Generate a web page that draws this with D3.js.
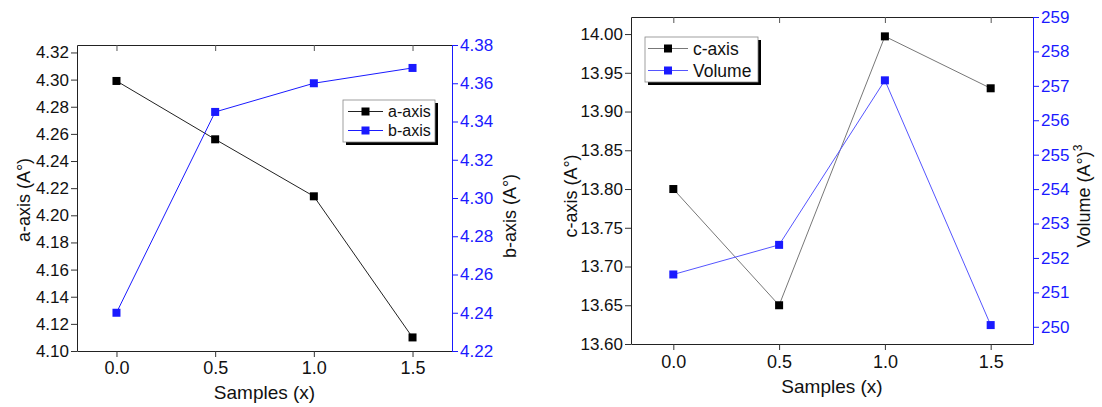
<!DOCTYPE html>
<meta charset="utf-8">
<style>
    body { margin: 0; background: #fff; }
    svg text { font-family: "Liberation Sans", Arial, sans-serif; }
</style>
<body>
<script src="https://cdn.jsdelivr.net/npm/d3@7"></script>
<script>

    var width = 1102,
            height = 407;

    // data
    var samples = [0.0, 0.5, 1.0, 1.5];
    var aAxis = [4.299, 4.256, 4.214, 4.110];
    var bAxis = [4.240, 4.345, 4.360, 4.368];
    var cAxis = [13.800, 13.650, 13.997, 13.930];
    var volume = [251.52, 252.38, 257.16, 250.05];

    var xTicks = [0.0, 0.5, 1.0, 1.5];
    var aTicks = [4.10, 4.12, 4.14, 4.16, 4.18, 4.20, 4.22, 4.24, 4.26, 4.28, 4.30, 4.32];
    var bTicks = [4.22, 4.24, 4.26, 4.28, 4.30, 4.32, 4.34, 4.36, 4.38];
    var cTicks = [13.60, 13.65, 13.70, 13.75, 13.80, 13.85, 13.90, 13.95, 14.00];
    var vTicks = [250, 251, 252, 253, 254, 255, 256, 257, 258, 259];

    var blue = "#1a1aff";

    var svg = d3.select("body").append("svg")
            .attr("width", width)
            .attr("height", height);

    var panels = [
        {
            left: 77, right: 452, top: 45, bottom: 351,
            yl: { domain: [4.10, 4.3255], ticks: aTicks, fmt: ".2f", title: "a-axis (A°)", tx: 30, ty: 200 },
            yr: { domain: [4.22, 4.38], ticks: bTicks, fmt: ".2f", title: "b-axis (A°)", tx: 516, ty: 216 },
            series: [
                { name: "a-axis", values: aAxis, side: "l", line: "#222", mark: "#000" },
                { name: "b-axis", values: bAxis, side: "r", line: blue, mark: blue }
            ],
            legend: { x: 343, y: 100, w: 92, h: 42, row: 19, font: 16, lx0: 5, lx1: 40, tx: 45 },
            xlabelY: 399, tickY: 374
        },
        {
            left: 631, right: 1033, top: 17, bottom: 344,
            yl: { domain: [13.60, 14.022], ticks: cTicks, fmt: ".2f", title: "c-axis (A°)", tx: 577, ty: 196 },
            yr: { domain: [249.5, 259], ticks: vTicks, fmt: "d", title: "Volume (A°)", sup: "3", tx: 1090, ty: 196 },
            series: [
                { name: "c-axis", values: cAxis, side: "l", line: "#777", mark: "#000" },
                { name: "Volume", values: volume, side: "r", line: "#5555ff", mark: blue }
            ],
            legend: { x: 645, y: 37, w: 113, h: 45, row: 22, font: 17.5, lx0: 3, lx1: 43, tx: 48 },
            xlabelY: 393, tickY: 368
        }
    ];

    panels.forEach(drawPanel);

    function drawPanel(p) {
        var g = svg.append("g");
        var x = d3.scaleLinear().domain([-0.2, 1.7]).range([p.left, p.right]);
        var yl = d3.scaleLinear().domain(p.yl.domain).range([p.bottom, p.top]);
        var yr = d3.scaleLinear().domain(p.yr.domain).range([p.bottom, p.top]);

        // minor ticks between majors
        function minors(t) {
            var m = [];
            for (var i = 0; i < t.length - 1; i++) m.push((t[i] + t[i + 1]) / 2);
            return m;
        }
        var xMinor = minors(xTicks);

        // bottom axis
        var bx = g.append("g").attr("transform", "translate(0," + p.bottom + ")");
        bx.call(d3.axisBottom(x).tickValues(xMinor).tickSize(3).tickFormat(""));
        bx.call(d3.axisBottom(x).tickValues(xTicks).tickSize(6).tickSizeOuter(0).tickFormat(d3.format(".1f")));
        bx.selectAll("path").attr("stroke", "#222");
        bx.selectAll("line").attr("stroke", "#333");
        bx.selectAll("text").attr("font-size", 18).attr("fill", "#111").attr("y", null)
                .attr("dy", null).attr("transform", "translate(0," + (p.tickY - p.bottom) + ")");

        // top axis (mirror, inward ticks)
        var tx = g.append("g").attr("transform", "translate(0," + p.top + ")");
        tx.call(d3.axisBottom(x).tickValues(xTicks).tickSize(6).tickSizeOuter(0).tickFormat(""));
        tx.selectAll("path").attr("stroke", "#222");
        tx.selectAll("line").attr("stroke", "#555");

        // left axis
        var lx = g.append("g").attr("transform", "translate(" + p.left + ",0)");
        lx.call(d3.axisLeft(yl).tickValues(minors(p.yl.ticks)).tickSize(3).tickFormat(""));
        lx.call(d3.axisLeft(yl).tickValues(p.yl.ticks).tickSize(6).tickSizeOuter(0).tickFormat(d3.format(p.yl.fmt)));
        lx.selectAll("path").attr("stroke", "#222");
        lx.selectAll("line").attr("stroke", "#333");
        lx.selectAll("text").attr("font-size", 17).attr("fill", "#111").attr("x", -8);

        // right axis
        var rx = g.append("g").attr("transform", "translate(" + p.right + ",0)");
        rx.call(d3.axisRight(yr).tickValues(minors(p.yr.ticks)).tickSize(3).tickFormat(""));
        rx.call(d3.axisRight(yr).tickValues(p.yr.ticks).tickSize(6).tickSizeOuter(0).tickFormat(d3.format(p.yr.fmt)));
        rx.selectAll("path").attr("stroke", blue);
        rx.selectAll("line").attr("stroke", blue);
        rx.selectAll("text").attr("font-size", 17).attr("fill", blue).attr("x", 8);

        // axis titles
        g.append("text")
                .attr("transform", "translate(" + p.yl.tx + "," + p.yl.ty + ")rotate(-90)")
                .attr("text-anchor", "middle").attr("font-size", 18).attr("fill", "#111")
                .text(p.yl.title);
        var rt = g.append("text")
                .attr("transform", "translate(" + p.yr.tx + "," + p.yr.ty + ")rotate(-90)")
                .attr("text-anchor", "middle").attr("font-size", 18).attr("fill", "#111")
                .text(p.yr.title);
        if (p.yr.sup) rt.append("tspan").attr("dy", -8).attr("font-size", 12).text(p.yr.sup);

        g.append("text")
                .attr("x", (x(0) + x(1.5)) / 2).attr("y", p.xlabelY)
                .attr("text-anchor", "middle").attr("font-size", 19).attr("fill", "#111")
                .text("Samples (x)");

        // series
        p.series.forEach(function(s) {
            var y = s.side === "l" ? yl : yr;
            var pts = samples.map(function(v, i) { return [x(v), y(s.values[i])]; });
            g.append("path")
                    .attr("d", d3.line()(pts))
                    .attr("fill", "none")
                    .attr("stroke", s.line)
                    .attr("stroke-width", 1);
            g.selectAll(null).data(pts).enter().append("rect")
                    .attr("x", function(d) { return d[0] - 4; })
                    .attr("y", function(d) { return d[1] - 4; })
                    .attr("width", 8).attr("height", 8)
                    .attr("fill", s.mark);
        });

        // legend
        var L = p.legend;
        var lg = g.append("g").attr("transform", "translate(" + L.x + "," + L.y + ")");
        lg.append("rect").attr("x", 3).attr("y", 3).attr("width", L.w).attr("height", L.h).attr("fill", "#000");
        lg.append("rect").attr("width", L.w).attr("height", L.h).attr("fill", "#fff").attr("stroke", "#888").attr("stroke-width", 0.8);
        p.series.forEach(function(s, i) {
            var cy = L.h / 2 + (i - 0.5) * L.row;
            lg.append("line").attr("x1", L.lx0).attr("x2", L.lx1).attr("y1", cy).attr("y2", cy)
                    .attr("stroke", s.line).attr("stroke-width", 1);
            lg.append("rect").attr("x", (L.lx0 + L.lx1) / 2 - 4).attr("y", cy - 4)
                    .attr("width", 8).attr("height", 8).attr("fill", s.mark);
            lg.append("text").attr("x", L.tx).attr("y", cy).attr("dy", "0.35em")
                    .attr("font-size", L.font).attr("fill", "#111").text(s.name);
        });
    }
</script>
</body>
</html>
